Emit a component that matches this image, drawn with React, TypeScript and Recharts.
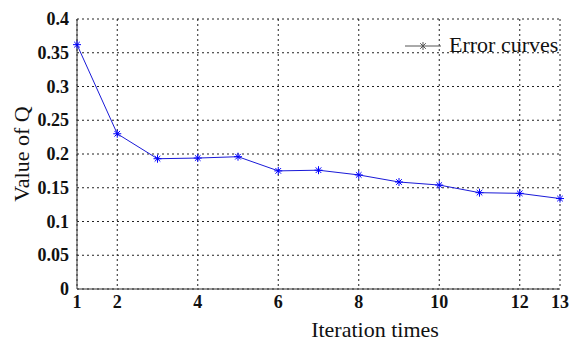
import {
  LineChart,
  Line,
  XAxis,
  YAxis,
  CartesianGrid,
  Legend,
} from 'recharts';

const ITERATIONS = [1, 2, 3, 4, 5, 6, 7, 8, 9, 10, 11, 12, 13];
const Q_VALUES = [
  0.362, 0.23, 0.193, 0.194, 0.196, 0.175, 0.176, 0.169, 0.1585, 0.154, 0.1427, 0.1417, 0.134,
];
const X_TICKS = [1, 2, 4, 6, 8, 10, 12, 13];
const Y_TICKS = [0, 0.05, 0.1, 0.15, 0.2, 0.25, 0.3, 0.35, 0.4];

const FONT = "'Liberation Serif', Tinos, 'Times New Roman', Times, 'DejaVu Serif', serif";
const BLUE = '#1a1ad8';

const data = ITERATIONS.map((it, i) => ({ it, q: Q_VALUES[i] }));

// matlab-style '*' marker
function StarDot(props: { cx?: number; cy?: number; index?: number }) {
  const { cx, cy, index } = props;
  if (cx == null || cy == null) return null;
  const r = 4;
  const d = 2.8;
  return (
    <g key={`star-${index}`} stroke="#0000ff" strokeWidth={1}>
      <line x1={cx - r} y1={cy} x2={cx + r} y2={cy} />
      <line x1={cx} y1={cy - r} x2={cx} y2={cy + r} />
      <line x1={cx - d} y1={cy - d} x2={cx + d} y2={cy + d} />
      <line x1={cx - d} y1={cy + d} x2={cx + d} y2={cy - d} />
    </g>
  );
}

function LegendBox() {
  return (
    <div style={{ display: 'flex', alignItems: 'center', fontFamily: FONT, fontSize: 22, color: '#111', lineHeight: '24px' }}>
      <svg width={40} height={16} style={{ marginRight: 6 }}>
        <g stroke="#555" strokeWidth={1}>
          <line x1={2} y1={9} x2={38} y2={9} />
          <line x1={20} y1={5} x2={20} y2={13} />
          <line x1={17.2} y1={6.2} x2={22.8} y2={11.8} />
          <line x1={17.2} y1={11.8} x2={22.8} y2={6.2} />
        </g>
      </svg>
      <span>Error curves</span>
    </div>
  );
}

function XTick(props: { x?: number; y?: number; payload?: { value: number } }) {
  const { x = 0, y = 0, payload } = props;
  return (
    <text x={x} y={y} dy="0.72em" textAnchor="middle" fontFamily={FONT} fontSize={18} fontWeight={700} fill="#111">
      {payload?.value}
    </text>
  );
}

function YTick(props: { x?: number; y?: number; payload?: { value: number } }) {
  const { x = 0, y = 0, payload } = props;
  return (
    <text x={x} y={y} dy="0.34em" textAnchor="end" fontFamily={FONT} fontSize={18} fontWeight={700} fill="#111">
      {payload?.value}
    </text>
  );
}

const emptyTick = () => <g />;

export default function App() {
  return (
    <div style={{ position: 'absolute', left: 0, top: 0, background: '#fff' }}>
      <LineChart
        width={569}
        height={342}
        data={data}
        margin={{ top: 19, right: 9, left: 0, bottom: 0 }}
      >
        <CartesianGrid stroke="#222" strokeDasharray="2 3" />
        <XAxis
          dataKey="it"
          type="number"
          domain={[1, 13]}
          ticks={X_TICKS}
          interval={0}
          height={53}
          tickSize={0}
          tickMargin={6}
          axisLine={{ stroke: '#333' }}
          tick={<XTick />}
          label={{
            content: () => (
              <text x={375} y={337} textAnchor="middle" fontFamily={FONT} fontSize={22} fill="#111">
                Iteration times
              </text>
            ),
          }}
        />
        <XAxis
          xAxisId="top"
          dataKey="it"
          type="number"
          orientation="top"
          domain={[1, 13]}
          ticks={X_TICKS}
          height={0}
          mirror
          tickSize={4}
          axisLine={{ stroke: '#333' }}
          tickLine={{ stroke: '#333' }}
          tick={emptyTick}
        />
        <YAxis
          type="number"
          domain={[0, 0.4]}
          ticks={Y_TICKS}
          interval={0}
          width={77}
          tickSize={0}
          tickMargin={8}
          axisLine={{ stroke: '#333' }}
          tick={<YTick />}
          label={{
            content: () => (
              <text
                x={21}
                y={154}
                transform="rotate(-90, 21, 154)"
                textAnchor="middle"
                dominantBaseline="central"
                fontFamily={FONT}
                fontSize={22}
                fill="#111"
              >
                Value of Q
              </text>
            ),
          }}
        />
        <YAxis
          yAxisId="right"
          orientation="right"
          type="number"
          domain={[0, 0.4]}
          ticks={Y_TICKS}
          width={0}
          mirror
          tickSize={4}
          axisLine={{ stroke: '#333' }}
          tickLine={{ stroke: '#333' }}
          tick={emptyTick}
        />
        <Legend
          layout="vertical"
          align="center"
          verticalAlign="middle"
          content={<LegendBox />}
          wrapperStyle={{ position: 'absolute', left: 403, top: 33, width: 170 }}
        />
        <Line
          type="linear"
          dataKey="q"
          stroke={BLUE}
          strokeWidth={1}
          dot={<StarDot />}
          activeDot={false}
          isAnimationActive={false}
        />
      </LineChart>
    </div>
  );
}
